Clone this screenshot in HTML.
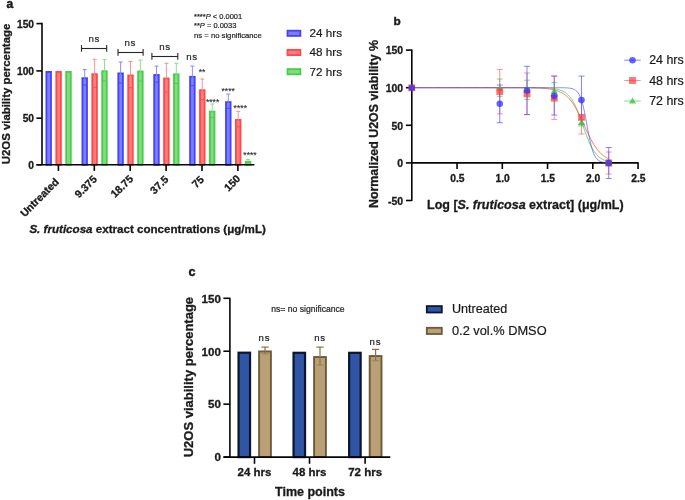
<!DOCTYPE html>
<html><head><meta charset="utf-8"><style>
html,body{margin:0;padding:0;background:#fff;}
svg{display:block;filter:blur(0.3px);font-family:"Liberation Sans", sans-serif;}
</style></head><body>
<svg width="685" height="500" viewBox="0 0 685 500">
<rect width="685" height="500" fill="#fff"/>
<text x="6.5" y="7.7" font-size="12" font-weight="bold" class="pl" fill="#1a1a1a" stroke="#1a1a1a" stroke-width="0.45">a</text>
<text x="29.4" y="233" font-size="11.6" font-weight="bold" fill="#1a1a1a" stroke="#1a1a1a" stroke-width="0.3"><tspan font-style="italic">S. fruticosa</tspan> extract concentrations (μg/mL)</text>
<text transform="translate(9.8,94) rotate(-90)" font-size="11.4" font-weight="bold" fill="#1a1a1a" text-anchor="middle" stroke="#1a1a1a" stroke-width="0.3">U2OS viability percentage</text>
<rect x="46.40" y="71.90" width="4.60" height="92.90" fill="#7d7dff" stroke="#4343ff" stroke-width="1.8"/>
<rect x="56.30" y="71.90" width="4.60" height="92.90" fill="#ff7c7c" stroke="#ff4848" stroke-width="1.8"/>
<rect x="66.20" y="71.90" width="4.60" height="92.90" fill="#82da82" stroke="#46cf46" stroke-width="1.8"/>
<rect x="82.40" y="78.20" width="4.60" height="86.60" fill="#7d7dff" stroke="#4343ff" stroke-width="1.8"/>
<line x1="84.70" y1="69.60" x2="84.70" y2="85.00" stroke="#8484ff" stroke-width="0.9"/>
<line x1="82.70" y1="69.60" x2="86.70" y2="69.60" stroke="#8484ff" stroke-width="1.0"/>
<line x1="83.10" y1="85.00" x2="86.30" y2="85.00" stroke="#4343ff" stroke-width="0.9"/>
<rect x="92.30" y="74.20" width="4.60" height="90.60" fill="#ff7c7c" stroke="#ff4848" stroke-width="1.8"/>
<line x1="94.60" y1="59.30" x2="94.60" y2="87.30" stroke="#ff8888" stroke-width="0.9"/>
<line x1="92.60" y1="59.30" x2="96.60" y2="59.30" stroke="#ff8888" stroke-width="1.0"/>
<line x1="93.00" y1="87.30" x2="96.20" y2="87.30" stroke="#ff4848" stroke-width="0.9"/>
<rect x="102.20" y="71.20" width="4.60" height="93.60" fill="#82da82" stroke="#46cf46" stroke-width="1.8"/>
<line x1="104.50" y1="59.70" x2="104.50" y2="80.90" stroke="#88da88" stroke-width="0.9"/>
<line x1="102.50" y1="59.70" x2="106.50" y2="59.70" stroke="#88da88" stroke-width="1.0"/>
<line x1="102.90" y1="80.90" x2="106.10" y2="80.90" stroke="#46cf46" stroke-width="0.9"/>
<rect x="118.30" y="73.40" width="4.60" height="91.40" fill="#7d7dff" stroke="#4343ff" stroke-width="1.8"/>
<line x1="120.60" y1="62.00" x2="120.60" y2="83.00" stroke="#8484ff" stroke-width="0.9"/>
<line x1="118.60" y1="62.00" x2="122.60" y2="62.00" stroke="#8484ff" stroke-width="1.0"/>
<line x1="119.00" y1="83.00" x2="122.20" y2="83.00" stroke="#4343ff" stroke-width="0.9"/>
<rect x="128.20" y="75.50" width="4.60" height="89.30" fill="#ff7c7c" stroke="#ff4848" stroke-width="1.8"/>
<line x1="130.50" y1="61.50" x2="130.50" y2="87.70" stroke="#ff8888" stroke-width="0.9"/>
<line x1="128.50" y1="61.50" x2="132.50" y2="61.50" stroke="#ff8888" stroke-width="1.0"/>
<line x1="128.90" y1="87.70" x2="132.10" y2="87.70" stroke="#ff4848" stroke-width="0.9"/>
<rect x="138.10" y="71.50" width="4.60" height="93.30" fill="#82da82" stroke="#46cf46" stroke-width="1.8"/>
<line x1="140.40" y1="60.10" x2="140.40" y2="81.10" stroke="#88da88" stroke-width="0.9"/>
<line x1="138.40" y1="60.10" x2="142.40" y2="60.10" stroke="#88da88" stroke-width="1.0"/>
<line x1="138.80" y1="81.10" x2="142.00" y2="81.10" stroke="#46cf46" stroke-width="0.9"/>
<rect x="154.20" y="75.00" width="4.60" height="89.80" fill="#7d7dff" stroke="#4343ff" stroke-width="1.8"/>
<line x1="156.50" y1="66.10" x2="156.50" y2="82.10" stroke="#8484ff" stroke-width="0.9"/>
<line x1="154.50" y1="66.10" x2="158.50" y2="66.10" stroke="#8484ff" stroke-width="1.0"/>
<line x1="154.90" y1="82.10" x2="158.10" y2="82.10" stroke="#4343ff" stroke-width="0.9"/>
<rect x="164.10" y="78.50" width="4.60" height="86.30" fill="#ff7c7c" stroke="#ff4848" stroke-width="1.8"/>
<line x1="166.40" y1="63.30" x2="166.40" y2="91.90" stroke="#ff8888" stroke-width="0.9"/>
<line x1="164.40" y1="63.30" x2="168.40" y2="63.30" stroke="#ff8888" stroke-width="1.0"/>
<line x1="164.80" y1="91.90" x2="168.00" y2="91.90" stroke="#ff4848" stroke-width="0.9"/>
<rect x="174.00" y="74.30" width="4.60" height="90.50" fill="#82da82" stroke="#46cf46" stroke-width="1.8"/>
<line x1="176.30" y1="63.30" x2="176.30" y2="83.50" stroke="#88da88" stroke-width="0.9"/>
<line x1="174.30" y1="63.30" x2="178.30" y2="63.30" stroke="#88da88" stroke-width="1.0"/>
<line x1="174.70" y1="83.50" x2="177.90" y2="83.50" stroke="#46cf46" stroke-width="0.9"/>
<rect x="190.10" y="76.80" width="4.60" height="88.00" fill="#7d7dff" stroke="#4343ff" stroke-width="1.8"/>
<line x1="192.40" y1="66.10" x2="192.40" y2="85.70" stroke="#8484ff" stroke-width="0.9"/>
<line x1="190.40" y1="66.10" x2="194.40" y2="66.10" stroke="#8484ff" stroke-width="1.0"/>
<line x1="190.80" y1="85.70" x2="194.00" y2="85.70" stroke="#4343ff" stroke-width="0.9"/>
<rect x="200.00" y="90.20" width="4.60" height="74.60" fill="#ff7c7c" stroke="#ff4848" stroke-width="1.8"/>
<line x1="202.30" y1="79.00" x2="202.30" y2="99.60" stroke="#ff8888" stroke-width="0.9"/>
<line x1="200.30" y1="79.00" x2="204.30" y2="79.00" stroke="#ff8888" stroke-width="1.0"/>
<line x1="200.70" y1="99.60" x2="203.90" y2="99.60" stroke="#ff4848" stroke-width="0.9"/>
<rect x="209.90" y="111.60" width="4.60" height="53.20" fill="#82da82" stroke="#46cf46" stroke-width="1.8"/>
<line x1="212.20" y1="104.00" x2="212.20" y2="117.40" stroke="#88da88" stroke-width="0.9"/>
<line x1="210.20" y1="104.00" x2="214.20" y2="104.00" stroke="#88da88" stroke-width="1.0"/>
<line x1="210.60" y1="117.40" x2="213.80" y2="117.40" stroke="#46cf46" stroke-width="0.9"/>
<rect x="226.00" y="102.10" width="4.60" height="62.70" fill="#7d7dff" stroke="#4343ff" stroke-width="1.8"/>
<line x1="228.30" y1="94.10" x2="228.30" y2="108.30" stroke="#8484ff" stroke-width="0.9"/>
<line x1="226.30" y1="94.10" x2="230.30" y2="94.10" stroke="#8484ff" stroke-width="1.0"/>
<line x1="226.70" y1="108.30" x2="229.90" y2="108.30" stroke="#4343ff" stroke-width="0.9"/>
<rect x="235.90" y="119.90" width="4.60" height="44.90" fill="#ff7c7c" stroke="#ff4848" stroke-width="1.8"/>
<line x1="238.20" y1="111.30" x2="238.20" y2="126.70" stroke="#ff8888" stroke-width="0.9"/>
<line x1="236.20" y1="111.30" x2="240.20" y2="111.30" stroke="#ff8888" stroke-width="1.0"/>
<line x1="236.60" y1="126.70" x2="239.80" y2="126.70" stroke="#ff4848" stroke-width="0.9"/>
<rect x="245.80" y="161.80" width="4.60" height="3.00" fill="#82da82" stroke="#46cf46" stroke-width="1.8"/>
<line x1="248.10" y1="159.60" x2="248.10" y2="162.20" stroke="#88da88" stroke-width="0.9"/>
<line x1="246.10" y1="159.60" x2="250.10" y2="159.60" stroke="#88da88" stroke-width="1.0"/>
<line x1="246.50" y1="162.20" x2="249.70" y2="162.20" stroke="#46cf46" stroke-width="0.9"/>
<line x1="42.0" y1="22.85" x2="42.0" y2="164.8" stroke="#050505" stroke-width="1.6"/>
<line x1="36.4" y1="164.8" x2="42.0" y2="164.8" stroke="#050505" stroke-width="1.6"/>
<text x="34.0" y="168.8" font-size="10.2" font-weight="bold" fill="#1a1a1a" text-anchor="end" stroke="#1a1a1a" stroke-width="0.3">0</text>
<line x1="36.4" y1="118.2" x2="42.0" y2="118.2" stroke="#050505" stroke-width="1.6"/>
<text x="34.0" y="122.2" font-size="10.2" font-weight="bold" fill="#1a1a1a" text-anchor="end" stroke="#1a1a1a" stroke-width="0.3">50</text>
<line x1="36.4" y1="70.9" x2="42.0" y2="70.9" stroke="#050505" stroke-width="1.6"/>
<text x="34.0" y="74.9" font-size="10.2" font-weight="bold" fill="#1a1a1a" text-anchor="end" stroke="#1a1a1a" stroke-width="0.3">100</text>
<line x1="36.4" y1="23.6" x2="42.0" y2="23.6" stroke="#050505" stroke-width="1.6"/>
<text x="34.0" y="27.6" font-size="10.2" font-weight="bold" fill="#1a1a1a" text-anchor="end" stroke="#1a1a1a" stroke-width="0.3">150</text>
<line x1="36.4" y1="164.8" x2="254.4" y2="164.8" stroke="#050505" stroke-width="1.6"/>
<line x1="58.4" y1="164.8" x2="58.4" y2="170.9" stroke="#050505" stroke-width="1.6"/>
<text transform="translate(59.6,182.6) rotate(-45)" font-size="10.6" font-weight="bold" fill="#1a1a1a" text-anchor="end" stroke="#1a1a1a" stroke-width="0.3">Untreated</text>
<line x1="94.3" y1="164.8" x2="94.3" y2="170.9" stroke="#050505" stroke-width="1.6"/>
<text transform="translate(97.7,179.8) rotate(-45)" font-size="10.6" font-weight="bold" fill="#1a1a1a" text-anchor="end" stroke="#1a1a1a" stroke-width="0.3">9.375</text>
<line x1="130.2" y1="164.8" x2="130.2" y2="170.9" stroke="#050505" stroke-width="1.6"/>
<text transform="translate(133.79999999999998,179.6) rotate(-45)" font-size="10.6" font-weight="bold" fill="#1a1a1a" text-anchor="end" stroke="#1a1a1a" stroke-width="0.3">18.75</text>
<line x1="166.1" y1="164.8" x2="166.1" y2="170.9" stroke="#050505" stroke-width="1.6"/>
<text transform="translate(169.1,180.1) rotate(-45)" font-size="10.6" font-weight="bold" fill="#1a1a1a" text-anchor="end" stroke="#1a1a1a" stroke-width="0.3">37.5</text>
<line x1="202.0" y1="164.8" x2="202.0" y2="170.9" stroke="#050505" stroke-width="1.6"/>
<text transform="translate(204.7,180.2) rotate(-45)" font-size="10.6" font-weight="bold" fill="#1a1a1a" text-anchor="end" stroke="#1a1a1a" stroke-width="0.3">75</text>
<line x1="237.9" y1="164.8" x2="237.9" y2="170.9" stroke="#050505" stroke-width="1.6"/>
<text transform="translate(241.0,179.4) rotate(-45)" font-size="10.6" font-weight="bold" fill="#1a1a1a" text-anchor="end" stroke="#1a1a1a" stroke-width="0.3">150</text>
<line x1="81.5" y1="48.5" x2="106.7" y2="48.5" stroke="#262626" stroke-width="1.1"/>
<line x1="81.5" y1="45.1" x2="81.5" y2="51.7" stroke="#262626" stroke-width="1.1"/>
<line x1="106.7" y1="45.1" x2="106.7" y2="51.7" stroke="#262626" stroke-width="1.1"/>
<text x="94.2" y="42.2" font-size="9.7" fill="#2a2a2a" text-anchor="middle" letter-spacing="0.6" stroke="#2a2a2a" stroke-width="0.2">ns</text>
<line x1="118.0" y1="52.5" x2="143.1" y2="52.5" stroke="#262626" stroke-width="1.1"/>
<line x1="118.0" y1="49.1" x2="118.0" y2="55.7" stroke="#262626" stroke-width="1.1"/>
<line x1="143.1" y1="49.1" x2="143.1" y2="55.7" stroke="#262626" stroke-width="1.1"/>
<text x="130.3" y="46.2" font-size="9.7" fill="#2a2a2a" text-anchor="middle" letter-spacing="0.6" stroke="#2a2a2a" stroke-width="0.2">ns</text>
<line x1="151.9" y1="56.5" x2="177.8" y2="56.5" stroke="#262626" stroke-width="1.1"/>
<line x1="151.9" y1="53.1" x2="151.9" y2="59.7" stroke="#262626" stroke-width="1.1"/>
<line x1="177.8" y1="53.1" x2="177.8" y2="59.7" stroke="#262626" stroke-width="1.1"/>
<text x="165.0" y="49.7" font-size="9.7" fill="#2a2a2a" text-anchor="middle" letter-spacing="0.6" stroke="#2a2a2a" stroke-width="0.2">ns</text>
<text x="191.9" y="60.2" font-size="9.7" fill="#2a2a2a" text-anchor="middle" letter-spacing="0.6" stroke="#2a2a2a" stroke-width="0.2">ns</text>
<text x="202.0" y="75.3" font-size="8.6" fill="#2a2a2a" text-anchor="middle" class="ast" stroke="#2a2a2a" stroke-width="0.12">**</text>
<text x="212.6" y="104.6" font-size="8.6" fill="#2a2a2a" text-anchor="middle" class="ast" stroke="#2a2a2a" stroke-width="0.12">****</text>
<text x="228.2" y="93.9" font-size="8.6" fill="#2a2a2a" text-anchor="middle" class="ast" stroke="#2a2a2a" stroke-width="0.12">****</text>
<text x="240.3" y="110.6" font-size="8.6" fill="#2a2a2a" text-anchor="middle" class="ast" stroke="#2a2a2a" stroke-width="0.12">****</text>
<text x="250.0" y="158.2" font-size="8.6" fill="#2a2a2a" text-anchor="middle" class="ast" stroke="#2a2a2a" stroke-width="0.12">****</text>
<text x="194" y="18.5" font-size="7.5" fill="#222" stroke="#222" stroke-width="0.2">****<tspan font-style="italic">P</tspan> &lt; 0.0001</text>
<text x="194" y="28.4" font-size="7.5" fill="#222" stroke="#222" stroke-width="0.2">**<tspan font-style="italic">P</tspan> = 0.0033</text>
<text x="194" y="38.1" font-size="7.7" fill="#222" stroke="#222" stroke-width="0.2">ns = no significance</text>
<rect x="287.5" y="30.699999999999996" width="12.899999999999999" height="5.2" fill="#7d7dff" stroke="#4343ff" stroke-width="1.8"/>
<text x="309.6" y="37.199999999999996" font-size="11.7" fill="#1a1a1a" stroke="#1a1a1a" stroke-width="0.2">24 hrs</text>
<rect x="287.5" y="49.9" width="12.899999999999999" height="5.2" fill="#ff7c7c" stroke="#ff4848" stroke-width="1.8"/>
<text x="309.6" y="56.4" font-size="11.7" fill="#1a1a1a" stroke="#1a1a1a" stroke-width="0.2">48 hrs</text>
<rect x="287.5" y="69.1" width="12.899999999999999" height="5.2" fill="#82da82" stroke="#46cf46" stroke-width="1.8"/>
<text x="309.6" y="75.6" font-size="11.7" fill="#1a1a1a" stroke="#1a1a1a" stroke-width="0.2">72 hrs</text>
<text x="393.4" y="25.3" font-size="11.8" font-weight="bold" class="pl" fill="#1a1a1a" stroke="#1a1a1a" stroke-width="0.45">b</text>
<line x1="411.8" y1="49.50000000000001" x2="411.8" y2="201.1" stroke="#050505" stroke-width="1.6"/>
<line x1="405.9" y1="50.10000000000001" x2="411.8" y2="50.10000000000001" stroke="#050505" stroke-width="1.6"/>
<text x="403.1" y="54.30000000000001" font-size="10.4" font-weight="bold" fill="#1a1a1a" text-anchor="end" stroke="#1a1a1a" stroke-width="0.3">150</text>
<line x1="405.9" y1="87.7" x2="411.8" y2="87.7" stroke="#050505" stroke-width="1.6"/>
<text x="403.1" y="91.9" font-size="10.4" font-weight="bold" fill="#1a1a1a" text-anchor="end" stroke="#1a1a1a" stroke-width="0.3">100</text>
<line x1="405.9" y1="125.30000000000001" x2="411.8" y2="125.30000000000001" stroke="#050505" stroke-width="1.6"/>
<text x="403.1" y="129.5" font-size="10.4" font-weight="bold" fill="#1a1a1a" text-anchor="end" stroke="#1a1a1a" stroke-width="0.3">50</text>
<line x1="405.9" y1="162.9" x2="411.8" y2="162.9" stroke="#050505" stroke-width="1.6"/>
<text x="403.1" y="167.1" font-size="10.4" font-weight="bold" fill="#1a1a1a" text-anchor="end" stroke="#1a1a1a" stroke-width="0.3">0</text>
<line x1="405.9" y1="200.5" x2="411.8" y2="200.5" stroke="#050505" stroke-width="1.6"/>
<text x="403.1" y="204.7" font-size="10.4" font-weight="bold" fill="#1a1a1a" text-anchor="end" stroke="#1a1a1a" stroke-width="0.3">-50</text>
<line x1="411.8" y1="162.9" x2="638.65" y2="162.9" stroke="#050505" stroke-width="1.6"/>
<line x1="457.05" y1="162.9" x2="457.05" y2="169" stroke="#050505" stroke-width="1.6"/>
<text x="457.35" y="181.8" font-size="10.3" font-weight="bold" fill="#1a1a1a" text-anchor="middle" stroke="#1a1a1a" stroke-width="0.3">0.5</text>
<line x1="502.3" y1="162.9" x2="502.3" y2="169" stroke="#050505" stroke-width="1.6"/>
<text x="502.6" y="181.8" font-size="10.3" font-weight="bold" fill="#1a1a1a" text-anchor="middle" stroke="#1a1a1a" stroke-width="0.3">1.0</text>
<line x1="547.55" y1="162.9" x2="547.55" y2="169" stroke="#050505" stroke-width="1.6"/>
<text x="547.8499999999999" y="181.8" font-size="10.3" font-weight="bold" fill="#1a1a1a" text-anchor="middle" stroke="#1a1a1a" stroke-width="0.3">1.5</text>
<line x1="592.8" y1="162.9" x2="592.8" y2="169" stroke="#050505" stroke-width="1.6"/>
<text x="593.0999999999999" y="181.8" font-size="10.3" font-weight="bold" fill="#1a1a1a" text-anchor="middle" stroke="#1a1a1a" stroke-width="0.3">2.0</text>
<line x1="638.05" y1="162.9" x2="638.05" y2="169" stroke="#050505" stroke-width="1.6"/>
<text x="638.3499999999999" y="181.8" font-size="10.3" font-weight="bold" fill="#1a1a1a" text-anchor="middle" stroke="#1a1a1a" stroke-width="0.3">2.5</text>
<text x="427" y="208.7" font-size="12.5" font-weight="bold" fill="#1a1a1a" stroke="#1a1a1a" stroke-width="0.3">Log [<tspan font-style="italic">S. fruticosa</tspan> extract] (μg/mL)</text>
<text transform="translate(378.3,124) rotate(-90)" font-size="12.4" font-weight="bold" fill="#1a1a1a" text-anchor="middle" stroke="#1a1a1a" stroke-width="0.3">Normalized U2OS viability %</text>
<polyline points="411.80,87.70 412.70,87.70 413.61,87.70 414.51,87.70 415.42,87.70 416.32,87.70 417.23,87.70 418.13,87.70 419.04,87.70 419.94,87.70 420.85,87.70 421.75,87.70 422.66,87.70 423.56,87.70 424.47,87.70 425.38,87.70 426.28,87.70 427.19,87.70 428.09,87.70 429.00,87.70 429.90,87.70 430.81,87.70 431.71,87.70 432.62,87.70 433.52,87.70 434.43,87.70 435.33,87.70 436.24,87.70 437.14,87.70 438.05,87.70 438.95,87.70 439.86,87.70 440.76,87.70 441.67,87.70 442.57,87.70 443.48,87.70 444.38,87.70 445.29,87.70 446.19,87.70 447.10,87.70 448.00,87.70 448.91,87.70 449.81,87.70 450.72,87.70 451.62,87.70 452.53,87.70 453.43,87.70 454.34,87.70 455.24,87.70 456.15,87.70 457.05,87.70 457.96,87.70 458.86,87.70 459.77,87.70 460.67,87.70 461.58,87.70 462.48,87.70 463.39,87.70 464.29,87.70 465.20,87.70 466.10,87.70 467.01,87.70 467.91,87.70 468.82,87.70 469.72,87.70 470.63,87.70 471.53,87.70 472.44,87.70 473.34,87.70 474.25,87.70 475.15,87.70 476.06,87.70 476.96,87.70 477.87,87.70 478.77,87.70 479.68,87.70 480.58,87.70 481.49,87.70 482.39,87.70 483.30,87.70 484.20,87.70 485.11,87.70 486.01,87.70 486.92,87.70 487.82,87.70 488.73,87.70 489.63,87.70 490.54,87.70 491.44,87.70 492.35,87.70 493.25,87.70 494.16,87.70 495.06,87.70 495.97,87.70 496.87,87.70 497.78,87.70 498.68,87.70 499.59,87.70 500.49,87.70 501.40,87.70 502.30,87.70 503.21,87.70 504.11,87.70 505.02,87.70 505.92,87.70 506.83,87.70 507.73,87.70 508.64,87.70 509.54,87.70 510.45,87.70 511.35,87.70 512.26,87.70 513.16,87.70 514.07,87.70 514.97,87.70 515.88,87.70 516.78,87.70 517.69,87.70 518.59,87.70 519.50,87.70 520.40,87.71 521.31,87.71 522.21,87.71 523.12,87.71 524.02,87.71 524.93,87.71 525.83,87.71 526.74,87.71 527.64,87.72 528.55,87.72 529.45,87.72 530.36,87.72 531.26,87.73 532.17,87.73 533.07,87.74 533.98,87.74 534.88,87.75 535.79,87.76 536.69,87.77 537.60,87.78 538.50,87.79 539.41,87.80 540.31,87.81 541.22,87.83 542.12,87.85 543.03,87.87 543.93,87.90 544.84,87.93 545.74,87.96 546.65,88.00 547.55,88.04 548.46,88.09 549.36,88.15 550.27,88.22 551.17,88.29 552.08,88.38 552.98,88.48 553.89,88.59 554.79,88.72 555.70,88.87 556.60,89.04 557.51,89.24 558.41,89.46 559.32,89.72 560.22,90.01 561.13,90.33 562.03,90.71 562.94,91.13 563.84,91.62 564.75,92.16 565.65,92.78 566.56,93.47 567.46,94.26 568.37,95.13 569.27,96.11 570.18,97.20 571.08,98.40 571.99,99.74 572.89,101.20 573.80,102.80 574.70,104.53 575.61,106.41 576.51,108.41 577.42,110.55 578.32,112.81 579.23,115.17 580.13,117.62 581.04,120.14 581.94,122.71 582.85,125.30 583.75,127.89 584.66,130.46 585.56,132.98 586.47,135.43 587.37,137.79 588.28,140.05 589.18,142.19 590.09,144.19 590.99,146.07 591.90,147.80 592.80,149.40 593.71,150.86 594.61,152.20 595.52,153.40 596.42,154.49 597.33,155.47 598.23,156.34 599.13,157.13 600.04,157.82 600.94,158.44 601.85,158.98 602.75,159.47 603.66,159.89 604.56,160.27 605.47,160.59 606.37,160.88 607.28,161.14 608.18,161.36 609.09,161.56" fill="none" stroke="rgba(70,210,70,0.8)" stroke-width="1"/>
<polyline points="411.80,87.70 412.70,87.70 413.61,87.70 414.51,87.70 415.42,87.70 416.32,87.70 417.23,87.70 418.13,87.70 419.04,87.70 419.94,87.70 420.85,87.70 421.75,87.70 422.66,87.70 423.56,87.70 424.47,87.70 425.38,87.70 426.28,87.70 427.19,87.70 428.09,87.70 429.00,87.70 429.90,87.70 430.81,87.70 431.71,87.70 432.62,87.70 433.52,87.70 434.43,87.70 435.33,87.70 436.24,87.70 437.14,87.70 438.05,87.70 438.95,87.70 439.86,87.70 440.76,87.70 441.67,87.70 442.57,87.70 443.48,87.70 444.38,87.70 445.29,87.70 446.19,87.70 447.10,87.70 448.00,87.70 448.91,87.70 449.81,87.70 450.72,87.70 451.62,87.70 452.53,87.70 453.43,87.70 454.34,87.70 455.24,87.70 456.15,87.70 457.05,87.70 457.96,87.70 458.86,87.70 459.77,87.70 460.67,87.70 461.58,87.70 462.48,87.70 463.39,87.70 464.29,87.70 465.20,87.70 466.10,87.70 467.01,87.70 467.91,87.70 468.82,87.70 469.72,87.70 470.63,87.70 471.53,87.70 472.44,87.70 473.34,87.70 474.25,87.70 475.15,87.70 476.06,87.70 476.96,87.70 477.87,87.70 478.77,87.70 479.68,87.70 480.58,87.70 481.49,87.70 482.39,87.70 483.30,87.70 484.20,87.70 485.11,87.70 486.01,87.70 486.92,87.70 487.82,87.70 488.73,87.70 489.63,87.70 490.54,87.70 491.44,87.70 492.35,87.70 493.25,87.70 494.16,87.70 495.06,87.70 495.97,87.70 496.87,87.70 497.78,87.70 498.68,87.70 499.59,87.70 500.49,87.70 501.40,87.70 502.30,87.71 503.21,87.71 504.11,87.71 505.02,87.71 505.92,87.71 506.83,87.71 507.73,87.71 508.64,87.71 509.54,87.71 510.45,87.71 511.35,87.71 512.26,87.72 513.16,87.72 514.07,87.72 514.97,87.72 515.88,87.73 516.78,87.73 517.69,87.73 518.59,87.73 519.50,87.74 520.40,87.74 521.31,87.75 522.21,87.75 523.12,87.76 524.02,87.77 524.93,87.77 525.83,87.78 526.74,87.79 527.64,87.80 528.55,87.81 529.45,87.82 530.36,87.84 531.26,87.85 532.17,87.87 533.07,87.89 533.98,87.91 534.88,87.93 535.79,87.96 536.69,87.99 537.60,88.02 538.50,88.06 539.41,88.10 540.31,88.14 541.22,88.19 542.12,88.24 543.03,88.30 543.93,88.37 544.84,88.44 545.74,88.52 546.65,88.62 547.55,88.72 548.46,88.83 549.36,88.95 550.27,89.09 551.17,89.24 552.08,89.41 552.98,89.60 553.89,89.80 554.79,90.03 555.70,90.28 556.60,90.56 557.51,90.87 558.41,91.20 559.32,91.57 560.22,91.98 561.13,92.43 562.03,92.92 562.94,93.46 563.84,94.05 564.75,94.70 565.65,95.40 566.56,96.16 567.46,96.99 568.37,97.89 569.27,98.86 570.18,99.90 571.08,101.02 571.99,102.22 572.89,103.50 573.80,104.87 574.70,106.31 575.61,107.83 576.51,109.43 577.42,111.10 578.32,112.84 579.23,114.65 580.13,116.51 581.04,118.41 581.94,120.35 582.85,122.32 583.75,124.30 584.66,126.30 585.56,128.28 586.47,130.25 587.37,132.19 588.28,134.09 589.18,135.95 590.09,137.76 590.99,139.50 591.90,141.17 592.80,142.77 593.71,144.29 594.61,145.73 595.52,147.10 596.42,148.38 597.33,149.58 598.23,150.70 599.13,151.74 600.04,152.71 600.94,153.61 601.85,154.44 602.75,155.20 603.66,155.90 604.56,156.55 605.47,157.14 606.37,157.68 607.28,158.17 608.18,158.62 609.09,159.03" fill="none" stroke="rgba(255,80,80,0.8)" stroke-width="1"/>
<polyline points="411.80,87.70 412.70,87.70 413.61,87.70 414.51,87.70 415.42,87.70 416.32,87.70 417.23,87.70 418.13,87.70 419.04,87.70 419.94,87.70 420.85,87.70 421.75,87.70 422.66,87.70 423.56,87.70 424.47,87.70 425.38,87.70 426.28,87.70 427.19,87.70 428.09,87.70 429.00,87.70 429.90,87.70 430.81,87.70 431.71,87.70 432.62,87.70 433.52,87.70 434.43,87.70 435.33,87.70 436.24,87.70 437.14,87.70 438.05,87.70 438.95,87.70 439.86,87.70 440.76,87.70 441.67,87.70 442.57,87.70 443.48,87.70 444.38,87.70 445.29,87.70 446.19,87.70 447.10,87.70 448.00,87.70 448.91,87.70 449.81,87.70 450.72,87.70 451.62,87.70 452.53,87.70 453.43,87.70 454.34,87.70 455.24,87.70 456.15,87.70 457.05,87.70 457.96,87.70 458.86,87.70 459.77,87.70 460.67,87.70 461.58,87.70 462.48,87.70 463.39,87.70 464.29,87.70 465.20,87.70 466.10,87.70 467.01,87.70 467.91,87.70 468.82,87.70 469.72,87.70 470.63,87.70 471.53,87.70 472.44,87.70 473.34,87.70 474.25,87.70 475.15,87.70 476.06,87.70 476.96,87.70 477.87,87.70 478.77,87.70 479.68,87.70 480.58,87.70 481.49,87.70 482.39,87.70 483.30,87.70 484.20,87.70 485.11,87.70 486.01,87.70 486.92,87.70 487.82,87.70 488.73,87.70 489.63,87.70 490.54,87.70 491.44,87.70 492.35,87.70 493.25,87.70 494.16,87.70 495.06,87.70 495.97,87.70 496.87,87.70 497.78,87.70 498.68,87.70 499.59,87.70 500.49,87.70 501.40,87.70 502.30,87.70 503.21,87.70 504.11,87.70 505.02,87.70 505.92,87.70 506.83,87.70 507.73,87.70 508.64,87.70 509.54,87.70 510.45,87.70 511.35,87.70 512.26,87.70 513.16,87.70 514.07,87.70 514.97,87.70 515.88,87.70 516.78,87.70 517.69,87.70 518.59,87.70 519.50,87.70 520.40,87.70 521.31,87.70 522.21,87.70 523.12,87.70 524.02,87.70 524.93,87.70 525.83,87.70 526.74,87.70 527.64,87.70 528.55,87.70 529.45,87.70 530.36,87.70 531.26,87.70 532.17,87.70 533.07,87.70 533.98,87.70 534.88,87.70 535.79,87.70 536.69,87.70 537.60,87.70 538.50,87.70 539.41,87.70 540.31,87.70 541.22,87.70 542.12,87.70 543.03,87.70 543.93,87.70 544.84,87.70 545.74,87.70 546.65,87.70 547.55,87.70 548.46,87.70 549.36,87.70 550.27,87.70 551.17,87.70 552.08,87.70 552.98,87.70 553.89,87.70 554.79,87.71 555.70,87.71 556.60,87.71 557.51,87.71 558.41,87.72 559.32,87.72 560.22,87.73 561.13,87.74 562.03,87.75 562.94,87.77 563.84,87.79 564.75,87.81 565.65,87.85 566.56,87.89 567.46,87.95 568.37,88.02 569.27,88.12 570.18,88.24 571.08,88.40 571.99,88.62 572.89,88.89 573.80,89.24 574.70,89.70 575.61,90.28 576.51,91.03 577.42,91.98 578.32,93.19 579.23,94.70 580.13,96.57 581.04,98.86 581.94,101.61 582.85,104.87 583.75,108.62 584.66,112.84 585.56,117.45 586.47,122.32 587.37,127.29 588.28,132.19 589.18,136.86 590.09,141.17 590.99,145.02 591.90,148.38 592.80,151.23 593.71,153.61 594.61,155.56 595.52,157.14 596.42,158.40 597.33,159.40 598.23,160.18 599.13,160.80 600.04,161.28 600.94,161.65 601.85,161.93 602.75,162.16 603.66,162.33 604.56,162.46 605.47,162.56 606.37,162.64 607.28,162.70 608.18,162.75 609.09,162.78" fill="none" stroke="rgba(70,70,255,0.65)" stroke-width="1"/>
<line x1="499.76" y1="79.0" x2="499.76" y2="96.3" stroke="rgba(80,200,80,0.7)" stroke-width="1"/>
<line x1="496.76" y1="79.0" x2="502.76" y2="79.0" stroke="rgba(80,200,80,0.7)" stroke-width="1"/>
<line x1="496.76" y1="96.3" x2="502.76" y2="96.3" stroke="rgba(80,200,80,0.7)" stroke-width="1"/>
<line x1="499.76" y1="69.4" x2="499.76" y2="113.8" stroke="rgba(255,100,100,0.7)" stroke-width="1"/>
<line x1="496.76" y1="69.4" x2="502.76" y2="69.4" stroke="rgba(255,100,100,0.7)" stroke-width="1"/>
<line x1="496.76" y1="113.8" x2="502.76" y2="113.8" stroke="rgba(255,100,100,0.7)" stroke-width="1"/>
<line x1="499.76" y1="85.0" x2="499.76" y2="122.7" stroke="rgba(90,90,255,0.75)" stroke-width="1"/>
<line x1="496.76" y1="85.0" x2="502.76" y2="85.0" stroke="rgba(90,90,255,0.75)" stroke-width="1"/>
<line x1="496.76" y1="122.7" x2="502.76" y2="122.7" stroke="rgba(90,90,255,0.75)" stroke-width="1"/>
<line x1="527.01" y1="80.2" x2="527.01" y2="99.4" stroke="rgba(80,200,80,0.7)" stroke-width="1"/>
<line x1="524.01" y1="80.2" x2="530.01" y2="80.2" stroke="rgba(80,200,80,0.7)" stroke-width="1"/>
<line x1="524.01" y1="99.4" x2="530.01" y2="99.4" stroke="rgba(80,200,80,0.7)" stroke-width="1"/>
<line x1="527.01" y1="73.0" x2="527.01" y2="114.6" stroke="rgba(255,100,100,0.7)" stroke-width="1"/>
<line x1="524.01" y1="73.0" x2="530.01" y2="73.0" stroke="rgba(255,100,100,0.7)" stroke-width="1"/>
<line x1="524.01" y1="114.6" x2="530.01" y2="114.6" stroke="rgba(255,100,100,0.7)" stroke-width="1"/>
<line x1="527.01" y1="66.3" x2="527.01" y2="114.6" stroke="rgba(90,90,255,0.75)" stroke-width="1"/>
<line x1="524.01" y1="66.3" x2="530.01" y2="66.3" stroke="rgba(90,90,255,0.75)" stroke-width="1"/>
<line x1="524.01" y1="114.6" x2="530.01" y2="114.6" stroke="rgba(90,90,255,0.75)" stroke-width="1"/>
<line x1="554.25" y1="82.6" x2="554.25" y2="99.4" stroke="rgba(80,200,80,0.7)" stroke-width="1"/>
<line x1="551.25" y1="82.6" x2="557.25" y2="82.6" stroke="rgba(80,200,80,0.7)" stroke-width="1"/>
<line x1="551.25" y1="99.4" x2="557.25" y2="99.4" stroke="rgba(80,200,80,0.7)" stroke-width="1"/>
<line x1="554.25" y1="76.0" x2="554.25" y2="119.4" stroke="rgba(255,100,100,0.7)" stroke-width="1"/>
<line x1="551.25" y1="76.0" x2="557.25" y2="76.0" stroke="rgba(255,100,100,0.7)" stroke-width="1"/>
<line x1="551.25" y1="119.4" x2="557.25" y2="119.4" stroke="rgba(255,100,100,0.7)" stroke-width="1"/>
<line x1="554.25" y1="76.1" x2="554.25" y2="115.0" stroke="rgba(90,90,255,0.75)" stroke-width="1"/>
<line x1="551.25" y1="76.1" x2="557.25" y2="76.1" stroke="rgba(90,90,255,0.75)" stroke-width="1"/>
<line x1="551.25" y1="115.0" x2="557.25" y2="115.0" stroke="rgba(90,90,255,0.75)" stroke-width="1"/>
<line x1="581.49" y1="119.4" x2="581.49" y2="126.0" stroke="rgba(80,200,80,0.7)" stroke-width="1"/>
<line x1="578.49" y1="119.4" x2="584.49" y2="119.4" stroke="rgba(80,200,80,0.7)" stroke-width="1"/>
<line x1="578.49" y1="126.0" x2="584.49" y2="126.0" stroke="rgba(80,200,80,0.7)" stroke-width="1"/>
<line x1="581.49" y1="100.8" x2="581.49" y2="134.0" stroke="rgba(255,100,100,0.7)" stroke-width="1"/>
<line x1="578.49" y1="100.8" x2="584.49" y2="100.8" stroke="rgba(255,100,100,0.7)" stroke-width="1"/>
<line x1="578.49" y1="134.0" x2="584.49" y2="134.0" stroke="rgba(255,100,100,0.7)" stroke-width="1"/>
<line x1="581.49" y1="76.1" x2="581.49" y2="124.1" stroke="rgba(90,90,255,0.75)" stroke-width="1"/>
<line x1="578.49" y1="76.1" x2="584.49" y2="76.1" stroke="rgba(90,90,255,0.75)" stroke-width="1"/>
<line x1="578.49" y1="124.1" x2="584.49" y2="124.1" stroke="rgba(90,90,255,0.75)" stroke-width="1"/>
<line x1="608.74" y1="160.0" x2="608.74" y2="166.0" stroke="rgba(80,200,80,0.7)" stroke-width="1"/>
<line x1="605.74" y1="160.0" x2="611.74" y2="160.0" stroke="rgba(80,200,80,0.7)" stroke-width="1"/>
<line x1="605.74" y1="166.0" x2="611.74" y2="166.0" stroke="rgba(80,200,80,0.7)" stroke-width="1"/>
<line x1="608.74" y1="152.0" x2="608.74" y2="174.0" stroke="rgba(255,100,100,0.7)" stroke-width="1"/>
<line x1="605.74" y1="152.0" x2="611.74" y2="152.0" stroke="rgba(255,100,100,0.7)" stroke-width="1"/>
<line x1="605.74" y1="174.0" x2="611.74" y2="174.0" stroke="rgba(255,100,100,0.7)" stroke-width="1"/>
<line x1="608.74" y1="147.5" x2="608.74" y2="178.5" stroke="rgba(90,90,255,0.75)" stroke-width="1"/>
<line x1="605.74" y1="147.5" x2="611.74" y2="147.5" stroke="rgba(90,90,255,0.75)" stroke-width="1"/>
<line x1="605.74" y1="178.5" x2="611.74" y2="178.5" stroke="rgba(90,90,255,0.75)" stroke-width="1"/>
<path d="M411.80,84.20 L415.40,90.40 L408.20,90.40 Z" fill="rgba(50,200,50,0.78)"/>
<rect x="408.40" y="84.40" width="6.8" height="6.8" fill="rgba(255,60,60,0.72)"/>
<circle cx="411.80" cy="87.80" r="3.3" fill="rgba(50,50,255,0.75)"/>
<path d="M499.76,85.00 L503.36,91.20 L496.16,91.20 Z" fill="rgba(50,200,50,0.78)"/>
<rect x="496.36" y="88.10" width="6.8" height="6.8" fill="rgba(255,60,60,0.72)"/>
<circle cx="499.76" cy="103.80" r="3.3" fill="rgba(50,50,255,0.75)"/>
<path d="M527.01,86.20 L530.61,92.40 L523.41,92.40 Z" fill="rgba(50,200,50,0.78)"/>
<rect x="523.61" y="90.50" width="6.8" height="6.8" fill="rgba(255,60,60,0.72)"/>
<circle cx="527.01" cy="90.50" r="3.3" fill="rgba(50,50,255,0.75)"/>
<path d="M554.25,87.40 L557.85,93.60 L550.65,93.60 Z" fill="rgba(50,200,50,0.78)"/>
<rect x="550.85" y="94.80" width="6.8" height="6.8" fill="rgba(255,60,60,0.72)"/>
<circle cx="554.25" cy="95.80" r="3.3" fill="rgba(50,50,255,0.75)"/>
<path d="M581.49,119.10 L585.09,125.30 L577.89,125.30 Z" fill="rgba(50,200,50,0.78)"/>
<rect x="578.09" y="114.00" width="6.8" height="6.8" fill="rgba(255,60,60,0.72)"/>
<circle cx="581.49" cy="100.10" r="3.3" fill="rgba(50,50,255,0.75)"/>
<path d="M608.74,159.40 L612.34,165.60 L605.14,165.60 Z" fill="rgba(50,200,50,0.78)"/>
<rect x="605.34" y="159.60" width="6.8" height="6.8" fill="rgba(255,60,60,0.72)"/>
<circle cx="608.74" cy="163.00" r="3.3" fill="rgba(50,50,255,0.75)"/>
<line x1="624.2" y1="60.2" x2="640.7" y2="60.2" stroke="rgba(90,90,255,0.75)" stroke-width="1"/>
<circle cx="632.50" cy="60.20" r="3.3" fill="rgba(50,50,255,0.75)"/>
<text x="649.2" y="64.4" font-size="12.4" fill="#1a1a1a" stroke="#1a1a1a" stroke-width="0.2">24 hrs</text>
<line x1="624.2" y1="80.5" x2="640.7" y2="80.5" stroke="rgba(255,100,100,0.7)" stroke-width="1"/>
<rect x="629.10" y="77.10" width="6.8" height="6.8" fill="rgba(255,60,60,0.72)"/>
<text x="649.2" y="84.7" font-size="12.4" fill="#1a1a1a" stroke="#1a1a1a" stroke-width="0.2">48 hrs</text>
<line x1="624.2" y1="101.0" x2="640.7" y2="101.0" stroke="rgba(80,200,80,0.7)" stroke-width="1"/>
<path d="M632.50,97.40 L636.10,103.60 L628.90,103.60 Z" fill="rgba(50,200,50,0.78)"/>
<text x="649.2" y="105.2" font-size="12.4" fill="#1a1a1a" stroke="#1a1a1a" stroke-width="0.2">72 hrs</text>
<text x="188.4" y="275.9" font-size="12.6" font-weight="bold" class="pl" fill="#1a1a1a" stroke="#1a1a1a" stroke-width="0.45">c</text>
<text x="310" y="496" font-size="12.5" font-weight="bold" fill="#1a1a1a" text-anchor="middle" stroke="#1a1a1a" stroke-width="0.3">Time points</text>
<text transform="translate(193.4,377.1) rotate(-90)" font-size="13" font-weight="bold" fill="#1a1a1a" text-anchor="middle" stroke="#1a1a1a" stroke-width="0.3">U2OS viability percentage</text>
<rect x="238.55" y="352.70" width="11.50" height="104.40" fill="#2f55a4" stroke="#0b1430" stroke-width="2.2"/>
<rect x="259.10" y="351.45" width="11.80" height="105.65" fill="#b9a076" stroke="#6e5a36" stroke-width="1.9"/>
<line x1="265.0" y1="347.1" x2="265.0" y2="353.9" stroke="#8a7248" stroke-width="1.2"/>
<line x1="261.4" y1="347.1" x2="268.6" y2="347.1" stroke="#8a7248" stroke-width="1.2"/>
<line x1="261.4" y1="353.9" x2="268.6" y2="353.9" stroke="#9a8258" stroke-width="1.0"/>
<rect x="293.55" y="352.80" width="11.50" height="104.30" fill="#2f55a4" stroke="#0b1430" stroke-width="2.2"/>
<rect x="314.10" y="357.05" width="11.80" height="100.05" fill="#b9a076" stroke="#6e5a36" stroke-width="1.9"/>
<line x1="320.0" y1="347.1" x2="320.0" y2="365.1" stroke="#8a7248" stroke-width="1.2"/>
<line x1="316.4" y1="347.1" x2="323.6" y2="347.1" stroke="#8a7248" stroke-width="1.2"/>
<line x1="316.4" y1="365.1" x2="323.6" y2="365.1" stroke="#9a8258" stroke-width="1.0"/>
<rect x="349.15" y="352.80" width="11.50" height="104.30" fill="#2f55a4" stroke="#0b1430" stroke-width="2.2"/>
<rect x="369.70" y="356.05" width="11.80" height="101.05" fill="#b9a076" stroke="#6e5a36" stroke-width="1.9"/>
<line x1="375.6" y1="349.4" x2="375.6" y2="360.80000000000007" stroke="#8a7248" stroke-width="1.2"/>
<line x1="372.0" y1="349.4" x2="379.20000000000005" y2="349.4" stroke="#8a7248" stroke-width="1.2"/>
<line x1="372.0" y1="360.80000000000007" x2="379.20000000000005" y2="360.80000000000007" stroke="#9a8258" stroke-width="1.0"/>
<line x1="229.9" y1="297.695" x2="229.9" y2="457.1" stroke="#050505" stroke-width="1.6"/>
<line x1="223.4" y1="457.1" x2="229.9" y2="457.1" stroke="#050505" stroke-width="1.6"/>
<text x="220.9" y="461.40000000000003" font-size="11.6" font-weight="bold" fill="#1a1a1a" text-anchor="end" stroke="#1a1a1a" stroke-width="0.3">0</text>
<line x1="223.4" y1="404.165" x2="229.9" y2="404.165" stroke="#050505" stroke-width="1.6"/>
<text x="220.9" y="408.46500000000003" font-size="11.6" font-weight="bold" fill="#1a1a1a" text-anchor="end" stroke="#1a1a1a" stroke-width="0.3">50</text>
<line x1="223.4" y1="351.23" x2="229.9" y2="351.23" stroke="#050505" stroke-width="1.6"/>
<text x="220.9" y="355.53000000000003" font-size="11.6" font-weight="bold" fill="#1a1a1a" text-anchor="end" stroke="#1a1a1a" stroke-width="0.3">100</text>
<line x1="223.4" y1="298.295" x2="229.9" y2="298.295" stroke="#050505" stroke-width="1.6"/>
<text x="220.9" y="302.595" font-size="11.6" font-weight="bold" fill="#1a1a1a" text-anchor="end" stroke="#1a1a1a" stroke-width="0.3">150</text>
<line x1="223.5" y1="457.1" x2="390.3" y2="457.1" stroke="#050505" stroke-width="1.6"/>
<line x1="254.5" y1="457.1" x2="254.5" y2="463.8" stroke="#050505" stroke-width="1.6"/>
<text x="254.5" y="476.3" font-size="11.5" font-weight="bold" fill="#1a1a1a" text-anchor="middle" stroke="#1a1a1a" stroke-width="0.3">24 hrs</text>
<line x1="309.5" y1="457.1" x2="309.5" y2="463.8" stroke="#050505" stroke-width="1.6"/>
<text x="309.5" y="476.3" font-size="11.5" font-weight="bold" fill="#1a1a1a" text-anchor="middle" stroke="#1a1a1a" stroke-width="0.3">48 hrs</text>
<line x1="365.1" y1="457.1" x2="365.1" y2="463.8" stroke="#050505" stroke-width="1.6"/>
<text x="365.1" y="476.3" font-size="11.5" font-weight="bold" fill="#1a1a1a" text-anchor="middle" stroke="#1a1a1a" stroke-width="0.3">72 hrs</text>
<text x="264.4" y="341.3" font-size="9.6" fill="#222" text-anchor="middle" letter-spacing="0.8" stroke="#222" stroke-width="0.2">ns</text>
<text x="320.09999999999997" y="341.0" font-size="9.6" fill="#222" text-anchor="middle" letter-spacing="0.8" stroke="#222" stroke-width="0.2">ns</text>
<text x="375.4" y="345.0" font-size="9.6" fill="#222" text-anchor="middle" letter-spacing="0.8" stroke="#222" stroke-width="0.2">ns</text>
<text x="271.3" y="311.8" font-size="8.6" fill="#222" stroke="#222" stroke-width="0.2">ns= no significance</text>
<rect x="426.79999999999995" y="306.09999999999997" width="15.0" height="6.3999999999999995" fill="#2f55a4" stroke="#0b1430" stroke-width="1.8"/>
<text x="452" y="313.4" font-size="12.6" fill="#1a1a1a" stroke="#1a1a1a" stroke-width="0.2">Untreated</text>
<rect x="426.79999999999995" y="327.79999999999995" width="15.0" height="6.2" fill="#b9a076" stroke="#6e5a36" stroke-width="1.8"/>
<text x="452" y="334.9" font-size="12.8" fill="#1a1a1a" stroke="#1a1a1a" stroke-width="0.2">0.2 vol.% DMSO</text>
</svg>
</body></html>
